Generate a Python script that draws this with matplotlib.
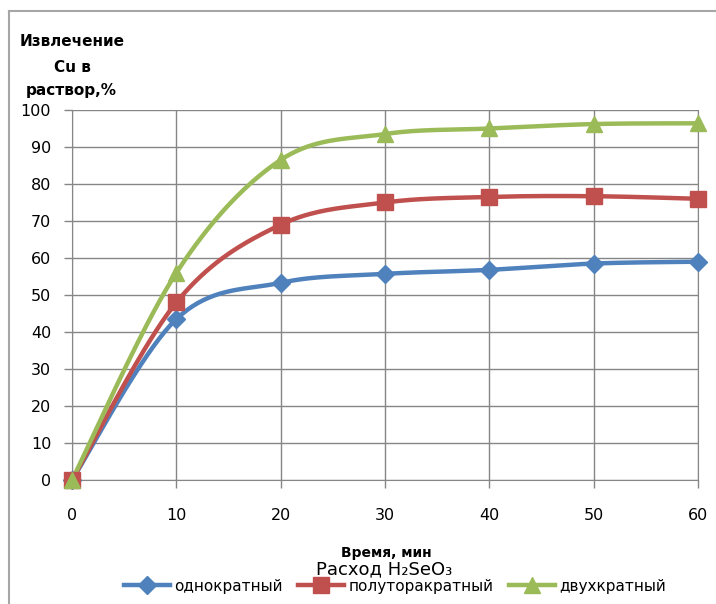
import numpy as np
import matplotlib.pyplot as plt
from matplotlib.lines import Line2D

# время, мин
time_min = [0, 10, 20, 30, 40, 50, 60]

# извлечение Cu в раствор, %
once = [0, 43.5, 53.3, 55.7, 56.8, 58.5, 59.0]
one_and_half = [0, 48.0, 69.0, 75.0, 76.5, 76.7, 76.0]
twice = [0, 56.0, 86.5, 93.5, 95.0, 96.2, 96.4]

labels = ['однократный', 'полуторакратный', 'двухкратный']
colors = ['#4F81BD', '#C0504D', '#9BBB59']
markers = ['D', 's', '^']
msizes = [9.5, 11, 11]


def smooth(x, y, n=40):
    # сглаженная линия через точки (кривые Безье, как в Excel)
    p = np.column_stack([x, y]).astype(float)
    pts = np.vstack([p[0], p, p[-1]])
    out = []
    t = np.linspace(0, 1, n)[:, None]
    for i in range(1, len(pts) - 2):
        p0, p3 = pts[i], pts[i + 1]
        c1 = p0 + (pts[i + 1] - pts[i - 1]) / 6
        c2 = p3 - (pts[i + 2] - pts[i]) / 6
        seg = ((1 - t) ** 3) * p0 + 3 * ((1 - t) ** 2) * t * c1 + 3 * (1 - t) * t ** 2 * c2 + t ** 3 * p3
        out.append(seg if i == 1 else seg[1:])
    seg = np.vstack(out)
    return seg[:, 0], seg[:, 1]


fig = plt.figure(figsize=(7.16, 6.04), dpi=100)
ax = fig.add_axes([0.1006, 0.2053, 0.8743, 0.6126])

for ys, c, m, ms in zip([once, one_and_half, twice], colors, markers, msizes):
    sx, sy = smooth(time_min, ys)
    ax.plot(sx, sy, color=c, lw=3.2, solid_capstyle='round', clip_on=False, zorder=3)
    ax.plot(time_min, ys, ls='none', marker=m, ms=ms, color=c, clip_on=False, zorder=4)

ax.set_xlim(0, 60)
ax.set_ylim(0, 100)
ax.set_xticks(range(0, 61, 10))
ax.set_yticks(range(0, 101, 10))
ax.grid(True, color='#868686', lw=1)
ax.set_axisbelow(True)
ax.spines['top'].set_visible(False)
for side in ['left', 'bottom', 'right']:
    ax.spines[side].set_color('#868686')
ax.tick_params(axis='both', colors='#868686', labelcolor='black', labelsize=11.5, length=6, width=1)
ax.tick_params(axis='x', pad=14)
ax.tick_params(axis='y', pad=9)

# подпись оси Y в три строки
fig.text(72 / 716, 1 - 42 / 604, 'Извлечение', ha='center', va='center', fontsize=11, fontweight='bold')
fig.text(72 / 716, 1 - 67 / 604, 'Cu в', ha='center', va='center', fontsize=11, fontweight='bold')
fig.text(71 / 716, 1 - 90 / 604, 'раствор,%', ha='center', va='center', fontsize=11, fontweight='bold')

fig.text(386 / 716, 1 - 553 / 604, 'Время, мин', ha='center', va='center', fontsize=10, fontweight='bold')
fig.text(384 / 716, 1 - 569 / 604, 'Расход H₂SeO₃', ha='center', va='center', fontsize=13)

handles = [Line2D([], [], color=c, lw=3.2, marker=m, ms=ms) for c, m, ms in zip(colors, markers, msizes)]
fig.legend(handles, labels, loc='center', bbox_to_anchor=(395 / 716, 1 - 586 / 604), ncol=3,
           frameon=False, fontsize=11, handlelength=3, columnspacing=1.0, handletextpad=0.3)

# рамка диаграммы
fig.add_artist(Line2D([9 / 716, 9 / 716], [0, 1 - 11 / 604], transform=fig.transFigure, color='#A6A6A6', lw=1.5))
fig.add_artist(Line2D([9 / 716, 1], [1 - 11 / 604, 1 - 11 / 604], transform=fig.transFigure, color='#A6A6A6', lw=1.5))

fig.savefig('out.png', dpi=100)
